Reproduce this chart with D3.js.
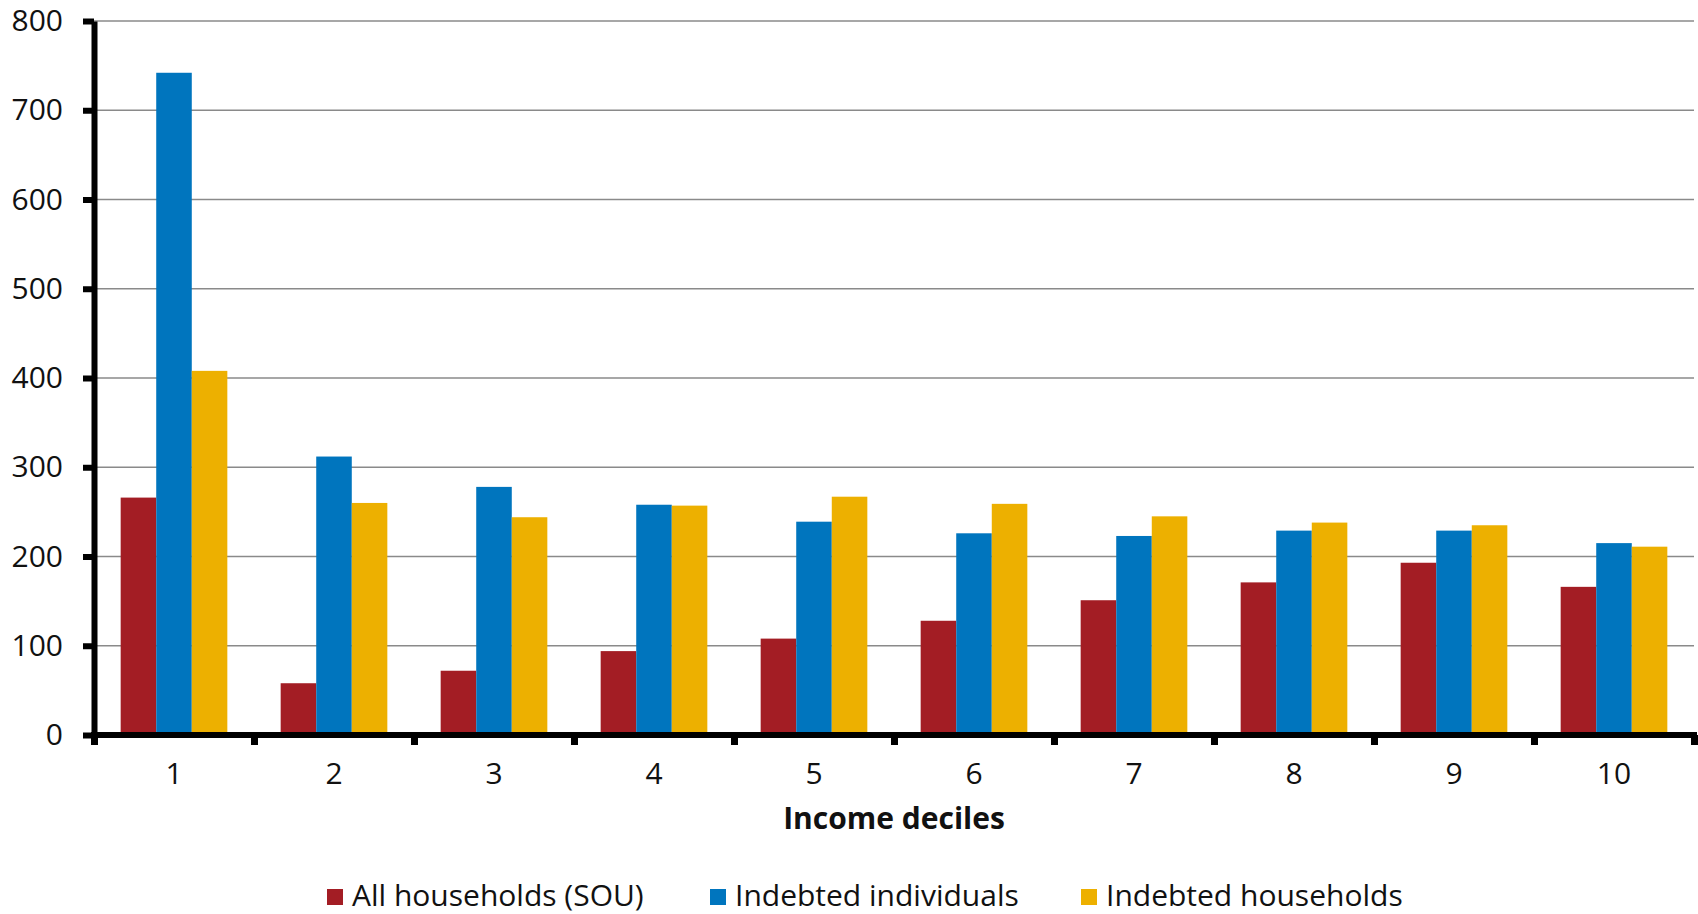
<!DOCTYPE html>
<html>
<head>
<meta charset="utf-8">
<script src="https://cdn.jsdelivr.net/npm/d3@7/dist/d3.min.js"></script>
<style>
  html, body { margin: 0; padding: 0; background: #fff; }
  svg { display: block; font-family: "Open Sans", "Noto Sans", sans-serif; }
</style>
</head>
<body>
<svg id="chart" width="1698" height="914"></svg>
<script>
// Income deciles on the x axis
const deciles = ["1", "2", "3", "4", "5", "6", "7", "8", "9", "10"];
// Series names, in legend order
const seriesNames = ["All households (SOU)", "Indebted individuals", "Indebted households"];
// Values per decile for each series
const allHouseholds = [266, 58, 72, 94, 108, 128, 151, 171, 193, 166];
const indebtedIndividuals = [742, 312, 278, 258, 239, 226, 223, 229, 229, 215];
const indebtedHouseholds = [408, 260, 244, 257, 267, 259, 245, 238, 235, 211];
// Y axis ticks
const yTicks = [0, 100, 200, 300, 400, 500, 600, 700, 800];
const xTitle = "Income deciles";

const colors = ["#A31D24", "#0075BE", "#EDB000"];
const seriesValues = [allHouseholds, indebtedIndividuals, indebtedHouseholds];

const rows = deciles.map((d, i) => ({
  decile: d,
  values: seriesNames.map((s, k) => ({ key: s, value: seriesValues[k][i] }))
}));

const svg = d3.select("#chart");
const plotLeft = 94, plotRight = 1694, plotTop = 21, plotBottom = 735;

const y = d3.scaleLinear().domain([0, 800]).range([plotBottom, plotTop]);
const x0 = d3.scaleBand().domain(deciles).range([plotLeft, plotRight])
  .paddingInner(1 / 3).paddingOuter(1 / 6);
const x1 = d3.scaleBand().domain(seriesNames).range([0, x0.bandwidth()]);
const color = d3.scaleOrdinal().domain(seriesNames).range(colors);
const xEdges = d3.scaleLinear().domain([0, deciles.length]).range([plotLeft, plotRight]);

// horizontal gridlines
svg.append("g")
  .selectAll("line")
  .data(yTicks.filter(t => t > 0))
  .join("line")
  .attr("x1", plotLeft).attr("x2", plotRight)
  .attr("y1", d => y(d)).attr("y2", d => y(d))
  .attr("stroke", "#8a8a8a")
  .attr("stroke-width", 1.6);

// bars
svg.append("g")
  .selectAll("g")
  .data(rows)
  .join("g")
  .attr("transform", d => `translate(${x0(d.decile)},0)`)
  .selectAll("rect")
  .data(d => d.values)
  .join("rect")
  .attr("x", d => x1(d.key))
  .attr("width", x1.bandwidth())
  .attr("y", d => y(d.value))
  .attr("height", d => y(0) - y(d.value))
  .attr("fill", d => color(d.key));

// y axis
const yAxis = svg.append("g")
  .attr("transform", `translate(${plotLeft},0)`)
  .call(d3.axisLeft(y).tickValues(yTicks).tickSize(11).tickSizeOuter(0).tickPadding(20));
yAxis.select(".domain").attr("stroke", "#000").attr("stroke-width", 6);
yAxis.selectAll(".tick line").attr("stroke", "#000").attr("stroke-width", 6);
yAxis.selectAll(".tick text")
  .attr("font-size", 30).attr("fill", "#111")
  .attr("font-family", "'Open Sans', sans-serif");

// x axis: boundary ticks
const xTickAxis = svg.append("g")
  .attr("transform", `translate(0,${plotBottom})`)
  .call(d3.axisBottom(xEdges).ticks(deciles.length).tickFormat("").tickSize(10).tickSizeOuter(0));
xTickAxis.select(".domain").remove();
xTickAxis.selectAll(".tick line").attr("stroke", "#000").attr("stroke-width", 7);

// x axis baseline
svg.append("line")
  .attr("x1", plotLeft - 3).attr("x2", plotRight + 3)
  .attr("y1", y(0)).attr("y2", y(0))
  .attr("stroke", "#000").attr("stroke-width", 6);

// x axis labels at band centres
const xLabelAxis = svg.append("g")
  .attr("transform", `translate(0,${plotBottom})`)
  .call(d3.axisBottom(x0).tickSize(0).tickPadding(28));
xLabelAxis.select(".domain").remove();
xLabelAxis.selectAll(".tick text")
  .attr("font-size", 30).attr("fill", "#111")
  .attr("font-family", "'Open Sans', sans-serif");

// x axis title
svg.append("text")
  .attr("x", (plotLeft + plotRight) / 2)
  .attr("y", 829)
  .attr("text-anchor", "middle")
  .attr("font-size", 30)
  .attr("font-weight", "bold")
  .attr("fill", "#111")
  .text(xTitle);

// legend: swatch + label, one entry per series
const legendX = [327, 710, 1081];
const legend = svg.append("g").attr("transform", "translate(0,889)");
seriesNames.forEach((name, i) => {
  const g = legend.append("g").attr("transform", `translate(${legendX[i]},0)`);
  g.append("rect").attr("width", 16).attr("height", 16).attr("fill", colors[i]);
  g.append("text")
    .attr("x", 25).attr("y", 17)
    .attr("font-size", 30).attr("fill", "#111")
    .text(name);
});
</script>
</body>
</html>
